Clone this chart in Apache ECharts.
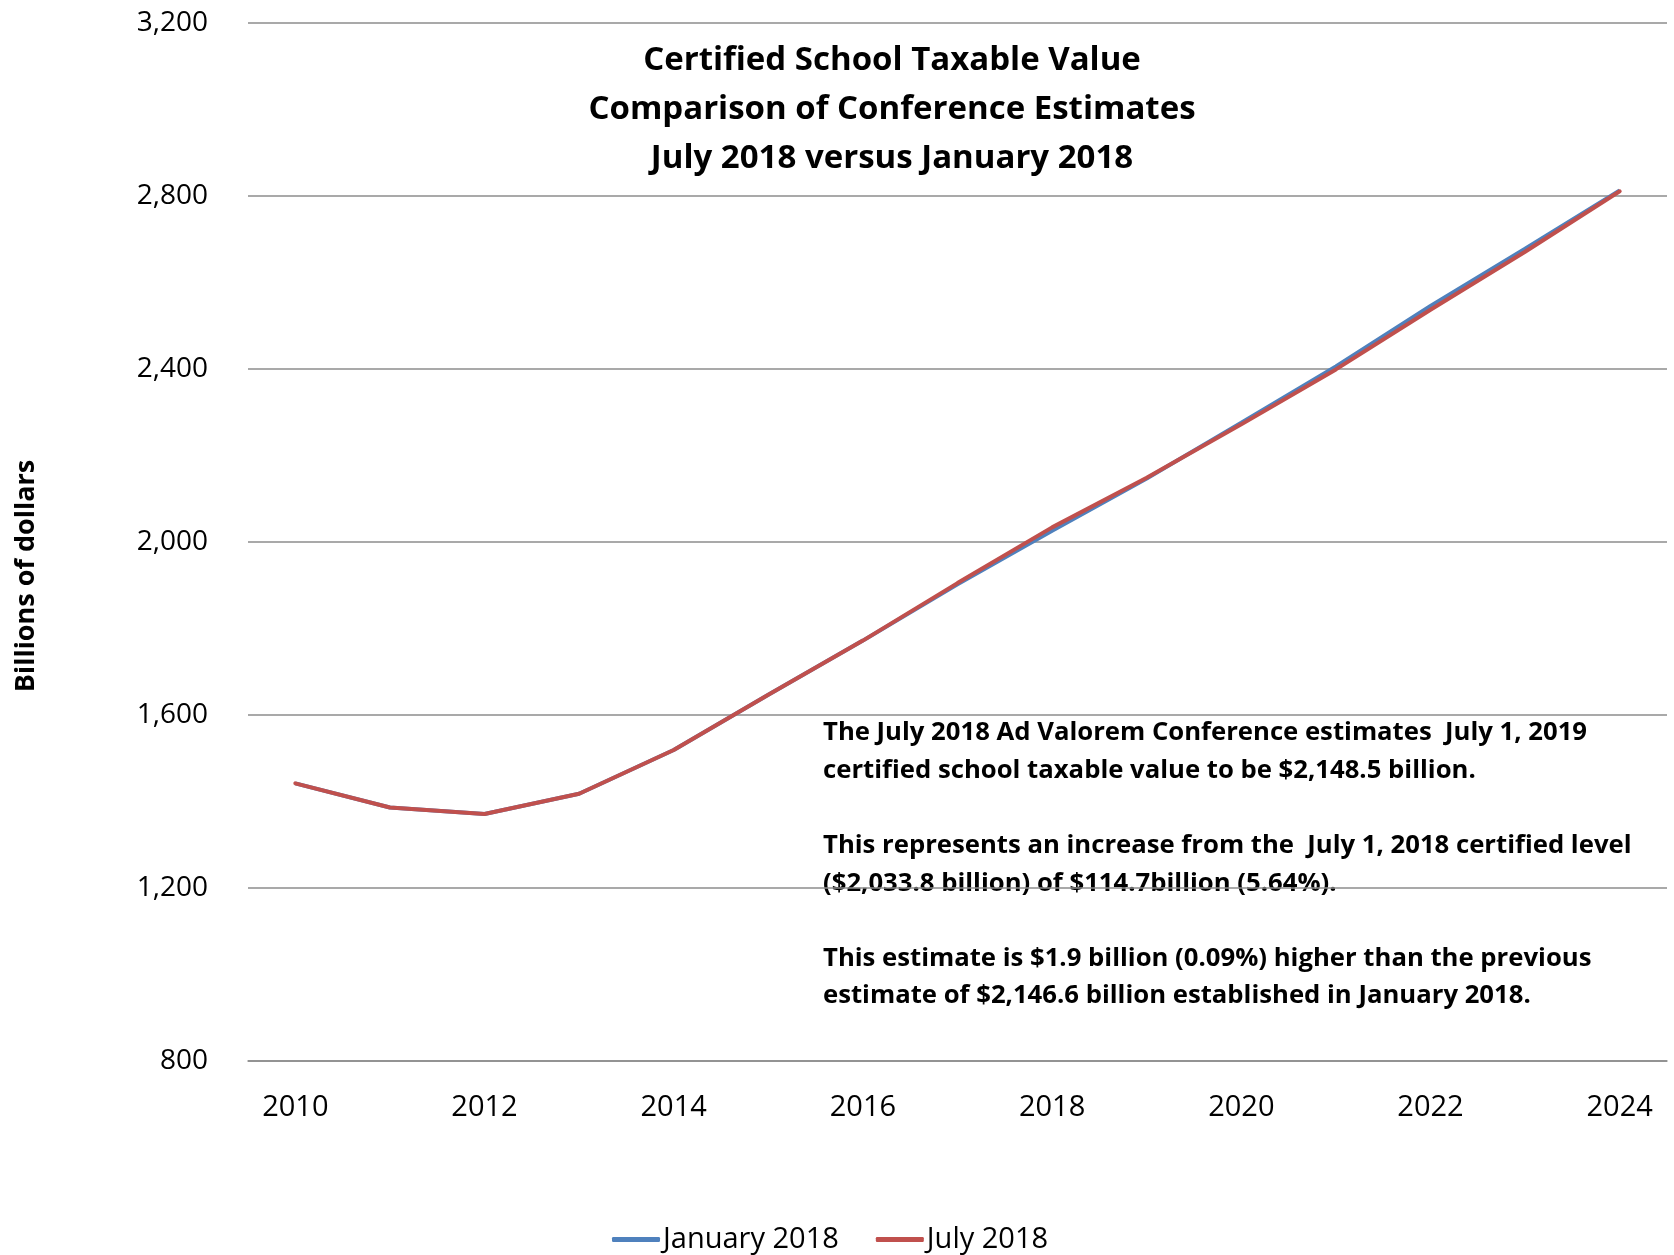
<!DOCTYPE html>
<html>
<head>
<meta charset="utf-8">
<script src="https://cdn.jsdelivr.net/npm/echarts@6/dist/echarts.min.js"></script>
<style>html,body{margin:0;padding:0;background:#fff}#chart{width:1674px;height:1255px}</style>
</head>
<body>
<div id="chart"></div>
<script>
const years = ['2010','2011','2012','2013','2014','2015','2016','2017','2018','2019','2020','2021','2022','2023','2024'];
const january2018 = [1442, 1386, 1371, 1418, 1519, 1647, 1772, 1902, 2026, 2146.6, 2276, 2406, 2546, 2678, 2813];
const july2018 = [1442, 1386, 1371, 1418, 1519, 1647, 1772, 1905, 2033.8, 2148.5, 2272, 2399, 2537, 2671, 2811];
const yTicks = [800, 1200, 1600, 2000, 2400, 2800, 3200];
const titleLines = ['Certified School Taxable Value', 'Comparison of Conference Estimates', 'July 2018 versus January 2018'];
const noteLines = [
  'The July 2018 Ad Valorem Conference estimates  July 1, 2019',
  'certified school taxable value to be $2,148.5 billion.',
  '',
  'This represents an increase from the  July 1, 2018 certified level',
  '($2,033.8 billion) of $114.7billion (5.64%).',
  '',
  'This estimate is $1.9 billion (0.09%) higher than the previous',
  'estimate of $2,146.6 billion established in January 2018.'
];
const FONT = '"Open Sans", "Noto Sans", sans-serif';
const chart = echarts.init(document.getElementById('chart'));
chart.setOption({
  animation: false,
  backgroundColor: '#fff',
  title: {
    text: titleLines.join('\n'),
    left: 887,
    textAlign: 'center',
    top: 31,
    textStyle: { fontFamily: FONT, fontWeight: 'bold', fontSize: 33, lineHeight: 49, color: '#000' }
  },
  legend: {
    left: 607,
    top: 1220,
    icon: 'roundRect',
    itemWidth: 48,
    itemHeight: 5,
    itemGap: 37,
    textStyle: { fontFamily: FONT, fontSize: 29, color: '#000', padding: [0, 0, 0, -2] },
    data: ['January 2018', 'July 2018']
  },
  grid: { left: 248, right: 7, top: 23, bottom: 194, containLabel: false },
  xAxis: {
    type: 'category',
    data: years,
    boundaryGap: true,
    axisLine: { lineStyle: { color: '#8c8c8c', width: 1.5 } },
    axisTick: { alignWithLabel: true, length: 8, lineStyle: { color: '#8c8c8c', width: 1.5 } },
    axisLabel: { interval: 1, margin: 32, fontFamily: FONT, fontSize: 29, color: '#000' }
  },
  yAxis: {
    type: 'value',
    min: yTicks[0],
    max: yTicks[yTicks.length - 1],
    interval: 400,
    axisLine: { show: false },
    axisTick: { show: false },
    splitLine: { lineStyle: { color: '#8c8c8c', width: 1.5 } },
    axisLabel: {
      margin: 40, fontFamily: FONT, fontSize: 28, color: '#000',
      formatter: v => v.toLocaleString('en-US')
    }
  },
  graphic: [
    {
      type: 'text', x: 26, y: 576, rotation: Math.PI / 2,
      style: { text: 'Billions of dollars', fontFamily: FONT, fontWeight: 'bold', fontSize: 27, fill: '#000', align: 'center', verticalAlign: 'middle' }
    },
    {
      type: 'text', x: 823, y: 714,
      style: { text: noteLines.join('\n'), fontFamily: FONT, fontWeight: 'bold', fontSize: 25.7, lineHeight: 37.6, fill: '#000', align: 'left', verticalAlign: 'top' }
    }
  ],
  series: [
    {
      name: 'January 2018', type: 'line', data: january2018, symbol: 'none',
      lineStyle: { color: '#4F81BD', width: 4 }, itemStyle: { color: '#4F81BD' }
    },
    {
      name: 'July 2018', type: 'line', data: july2018, symbol: 'none',
      lineStyle: { color: '#C0504D', width: 4, cap: 'round' }, itemStyle: { color: '#C0504D' }
    }
  ]
});
</script>
</body>
</html>
